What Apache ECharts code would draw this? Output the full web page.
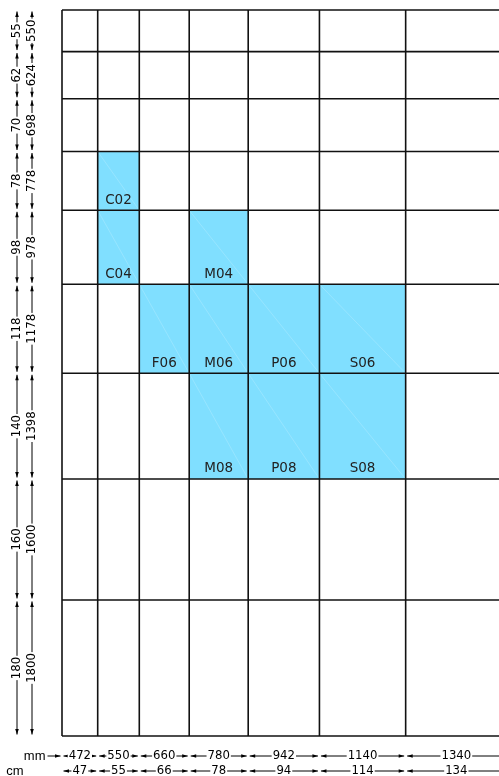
<!DOCTYPE html>
<html><head><meta charset="utf-8">
<script src="https://cdn.jsdelivr.net/npm/echarts@6/dist/echarts.min.js"></script>
<style>html,body{margin:0;padding:0;background:#fff;overflow:hidden}#c{width:507px;height:776px}</style>
</head><body><div id="c"></div>
<script>
// Column widths (mm / cm) and row heights (mm / cm)
const colMM = [472, 550, 660, 780, 942, 1140, 1340];
const colCM = [47, 55, 66, 78, 94, 114, 134];
const rowMM = [550, 624, 698, 778, 978, 1178, 1398, 1600, 1800];
const rowCM = [55, 62, 70, 78, 98, 118, 140, 160, 180];
// Highlighted cells: label, column index, row index
const cellLabels = ['C02', 'C04', 'M04', 'F06', 'M06', 'P06', 'S06', 'M08', 'P08', 'S08'];
const cellCols   = [1, 1, 3, 2, 3, 4, 5, 3, 4, 5];
const cellRows   = [3, 4, 4, 5, 5, 5, 5, 6, 6, 6];

function cumulate(a) { const e = [0]; a.forEach(w => e.push(e[e.length - 1] + w)); return e; }
const colEdges = cumulate(colMM);
const rowEdges = cumulate(rowMM);
const xMax = colEdges[colEdges.length - 1];
const yMax = rowEdges[rowEdges.length - 1];

const NUM_FONT = "'Liberation Sans Narrow', 'DejaVu Sans Condensed', 'Liberation Sans', sans-serif";
const CELL_FONT = "'DejaVu Sans', Verdana, sans-serif";
const LINE_COL = '#111';
const FILL = '#80DFFF';

const cellData = cellLabels.map((l, i) => [colEdges[cellCols[i]], colEdges[cellCols[i] + 1], rowEdges[cellRows[i]], rowEdges[cellRows[i] + 1], l]);
const gridData = colEdges.map(v => [0, v]).concat(rowEdges.map(v => [1, v]));
const leftData = rowMM.map((m, i) => [rowEdges[i], rowEdges[i + 1], m, rowCM[i]]);
const bottomData = colMM.map((m, i) => [colEdges[i], colEdges[i + 1], m, colCM[i]]);

const MM_X = 32, CM_X = 17, MM_Y = 756, CM_Y = 771;

function vArrow(x, y, dir) {
  return { type: 'polygon', shape: { points: [[x, y], [x - 1.8, y - dir * 5.5], [x + 1.8, y - dir * 5.5]] }, style: { fill: '#000' } };
}
function hArrow(x, y, dir) {
  return { type: 'polygon', shape: { points: [[x, y], [x - dir * 5.5, y - 1.8], [x - dir * 5.5, y + 1.8]] }, style: { fill: '#000' } };
}
function numText(x, y, t, rot) {
  return { type: 'text', x: x, y: y, rotation: rot || 0,
    style: { text: String(t), font: '13px ' + NUM_FONT, fill: '#000', align: 'center', verticalAlign: 'middle', backgroundColor: '#fff', padding: [0, 1] } };
}

const chart = echarts.init(document.getElementById('c'), null, { renderer: 'canvas' });
chart.setOption({
  animation: false,
  grid: { left: 62, top: 10, right: 0, bottom: 40 },
  xAxis: { type: 'value', min: 0, max: xMax, show: false },
  yAxis: { type: 'value', min: 0, max: yMax, inverse: true, show: false },
  series: [
    {
      type: 'custom', name: 'cells', data: cellData, z: 1, clip: false,
      encode: { x: [0, 1], y: [2, 3] },
      renderItem: function (params, api) {
        const p0 = api.coord([api.value(0), api.value(2)]);
        const p1 = api.coord([api.value(1), api.value(3)]);
        return { type: 'group', children: [
          { type: 'rect', shape: { x: p0[0], y: p0[1], width: p1[0] - p0[0], height: p1[1] - p0[1] }, style: { fill: FILL } },
          { type: 'line', shape: { x1: p0[0], y1: p0[1], x2: p1[0], y2: p1[1] }, style: { stroke: 'rgba(255,255,255,0.3)', lineWidth: 0.6 } },
          { type: 'text', x: (p0[0] + p1[0]) / 2, y: p1[1] - 3,
            style: { text: cellData[params.dataIndex][4], font: '13.5px ' + CELL_FONT, fill: '#222', align: 'center', verticalAlign: 'bottom' } }
        ] };
      }
    },
    {
      type: 'custom', name: 'gridlines', data: gridData, z: 3, clip: false,
      encode: { x: 1 },
      renderItem: function (params, api) {
        const kind = api.value(0), v = api.value(1);
        let a, b;
        if (kind === 0) { a = api.coord([v, 0]); b = api.coord([v, yMax]); }
        else { a = api.coord([0, v]); b = api.coord([xMax, v]); }
        return { type: 'line', shape: { x1: a[0], y1: a[1], x2: b[0], y2: b[1] }, style: { stroke: LINE_COL, lineWidth: 1.6 } };
      }
    },
    {
      type: 'custom', name: 'leftDims', data: leftData, z: 4, clip: false,
      encode: { y: [0, 1] },
      renderItem: function (params, api) {
        const ya = api.coord([0, api.value(0)])[1] + 1.5;
        const yb = api.coord([0, api.value(1)])[1] - 1.5;
        const ym = (ya + yb) / 2;
        const ch = [];
        [[MM_X, api.value(2)], [CM_X, api.value(3)]].forEach(function (d) {
          const x = d[0];
          ch.push({ type: 'line', shape: { x1: x, y1: ya, x2: x, y2: yb }, style: { stroke: '#000', lineWidth: 1 } });
          ch.push(vArrow(x, ya, -1));
          ch.push(vArrow(x, yb, 1));
          ch.push(numText(x, ym, d[1], Math.PI / 2));
        });
        return { type: 'group', children: ch };
      }
    },
    {
      type: 'custom', name: 'bottomDims', data: bottomData, z: 4, clip: false,
      encode: { x: [0, 1] },
      renderItem: function (params, api) {
        const xa = api.coord([api.value(0), 0])[0] + 1.5;
        const xb = api.coord([api.value(1), 0])[0] - 1.5;
        const xm = (xa + xb) / 2;
        const ch = [];
        [[MM_Y, api.value(2)], [CM_Y, api.value(3)]].forEach(function (d) {
          const y = d[0];
          ch.push({ type: 'line', shape: { x1: xa, y1: y, x2: xb, y2: y }, style: { stroke: '#000', lineWidth: 1 } });
          ch.push(hArrow(xa, y, -1));
          ch.push(hArrow(xb, y, 1));
          ch.push(numText(xm, y, d[1], 0));
        });
        if (params.dataIndex === 0) {
          ch.push({ type: 'line', shape: { x1: xa - 16, y1: MM_Y, x2: xa - 3, y2: MM_Y }, style: { stroke: '#000', lineWidth: 1 } });
          ch.push(hArrow(xa - 3, MM_Y, 1));
          ch.push({ type: 'text', x: xa - 18, y: MM_Y, style: { text: 'mm', font: '13px ' + "'Liberation Sans', Arial, sans-serif", fill: '#000', align: 'right', verticalAlign: 'middle' } });
          ch.push({ type: 'text', x: xa - 40, y: CM_Y, style: { text: 'cm', font: '13px ' + "'Liberation Sans', Arial, sans-serif", fill: '#000', align: 'right', verticalAlign: 'middle' } });
        }
        return { type: 'group', children: ch };
      }
    }
  ]
});
</script></body></html>
